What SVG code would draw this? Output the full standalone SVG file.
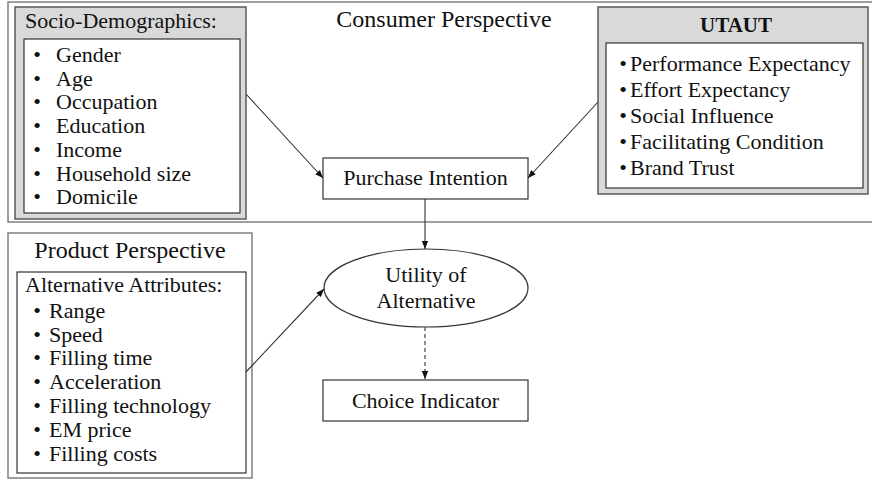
<svg xmlns="http://www.w3.org/2000/svg" width="872" height="480" viewBox="0 0 872 480">
<defs>
<style>
text{font-family:"Liberation Serif","Times New Roman",serif;fill:#111;}
.t22{font-size:22px;}
.t24{font-size:24px;}
.b{font-size:21px;font-weight:bold;}
.mid{text-anchor:middle;}
.outer{fill:#fff;stroke:#808080;stroke-width:1.5;}
.gray{fill:#d9d9d9;stroke:#595959;stroke-width:1.5;}
.inner{fill:#fff;stroke:#333;stroke-width:1.2;}
.node{fill:#fff;stroke:#333;stroke-width:1.2;}
.conn{fill:none;stroke:#333;stroke-width:1.1;}
.dash{stroke-dasharray:4,3;}
</style>
<marker id="arr" viewBox="0 0 10 10" refX="10" refY="5" markerWidth="8" markerHeight="8" markerUnits="userSpaceOnUse" orient="auto">
<path d="M0,1 L10,5 L0,9 Z" fill="#111"/>
</marker>
</defs>

<g id="consumer-perspective">
<rect class="outer" x="8" y="2" width="870" height="220"/>
<text class="t24 mid" x="444" y="27">Consumer Perspective</text>
</g>

<g id="socio-demographics">
<rect class="gray" x="15" y="7" width="231" height="212"/>
<text class="t22" x="25" y="28">Socio-Demographics:</text>
<rect class="inner" x="24" y="39" width="216" height="174"/>
<g class="t22">
<text class="mid" x="37" y="62">•</text><text x="56" y="62">Gender</text>
<text class="mid" x="37" y="85.7">•</text><text x="56" y="85.7">Age</text>
<text class="mid" x="37" y="109.4">•</text><text x="56" y="109.4">Occupation</text>
<text class="mid" x="37" y="133.1">•</text><text x="56" y="133.1">Education</text>
<text class="mid" x="37" y="156.8">•</text><text x="56" y="156.8">Income</text>
<text class="mid" x="37" y="180.5">•</text><text x="56" y="180.5">Household size</text>
<text class="mid" x="37" y="204.2">•</text><text x="56" y="204.2">Domicile</text>
</g>
</g>

<g id="utaut">
<rect class="gray" x="598" y="7" width="270" height="187"/>
<text class="b mid" x="736" y="32">UTAUT</text>
<rect class="inner" x="606" y="43" width="257" height="145"/>
<g class="t22">
<text class="mid" x="623" y="70.5">•</text><text x="630" y="70.5">Performance Expectancy</text>
<text class="mid" x="623" y="96.7">•</text><text x="630" y="96.7">Effort Expectancy</text>
<text class="mid" x="623" y="122.9">•</text><text x="630" y="122.9">Social Influence</text>
<text class="mid" x="623" y="149.1">•</text><text x="630" y="149.1">Facilitating Condition</text>
<text class="mid" x="623" y="175.3">•</text><text x="630" y="175.3">Brand Trust</text>
</g>
</g>

<g id="product-perspective">
<rect class="outer" x="8" y="233" width="244" height="245"/>
<text class="t24 mid" x="130" y="258">Product Perspective</text>
<rect class="inner" x="17" y="272" width="229" height="201"/>
<g class="t22">
<text x="25" y="292">Alternative Attributes:</text>
<text class="mid" x="37" y="317.7">•</text><text x="49" y="317.7">Range</text>
<text class="mid" x="37" y="341.5">•</text><text x="49" y="341.5">Speed</text>
<text class="mid" x="37" y="365.3">•</text><text x="49" y="365.3">Filling time</text>
<text class="mid" x="37" y="389.1">•</text><text x="49" y="389.1">Acceleration</text>
<text class="mid" x="37" y="412.9">•</text><text x="49" y="412.9">Filling technology</text>
<text class="mid" x="37" y="436.7">•</text><text x="49" y="436.7">EM price</text>
<text class="mid" x="37" y="460.5">•</text><text x="49" y="460.5">Filling costs</text>
</g>
</g>

<g id="purchase-intention">
<rect class="node" x="323" y="158" width="205" height="41"/>
<text class="t22 mid" x="425.5" y="185">Purchase Intention</text>
</g>

<g id="utility">
<ellipse class="node" cx="426" cy="288" rx="102" ry="39"/>
<text class="t22 mid" x="426" y="282">Utility of</text>
<text class="t22 mid" x="426" y="308">Alternative</text>
</g>

<g id="choice-indicator">
<rect class="node" x="323" y="380" width="205" height="41"/>
<text class="t22 mid" x="425.5" y="408">Choice Indicator</text>
</g>

<g id="connectors">
<line class="conn" x1="246" y1="94" x2="323" y2="178" marker-end="url(#arr)"/>
<line class="conn" x1="598" y1="102" x2="528" y2="178" marker-end="url(#arr)"/>
<line class="conn" x1="425" y1="199" x2="425" y2="249" marker-end="url(#arr)"/>
<line class="conn" x1="246" y1="372" x2="324" y2="289" marker-end="url(#arr)"/>
<line class="conn dash" x1="425" y1="327" x2="425" y2="379" marker-end="url(#arr)"/>
</g>
</svg>
